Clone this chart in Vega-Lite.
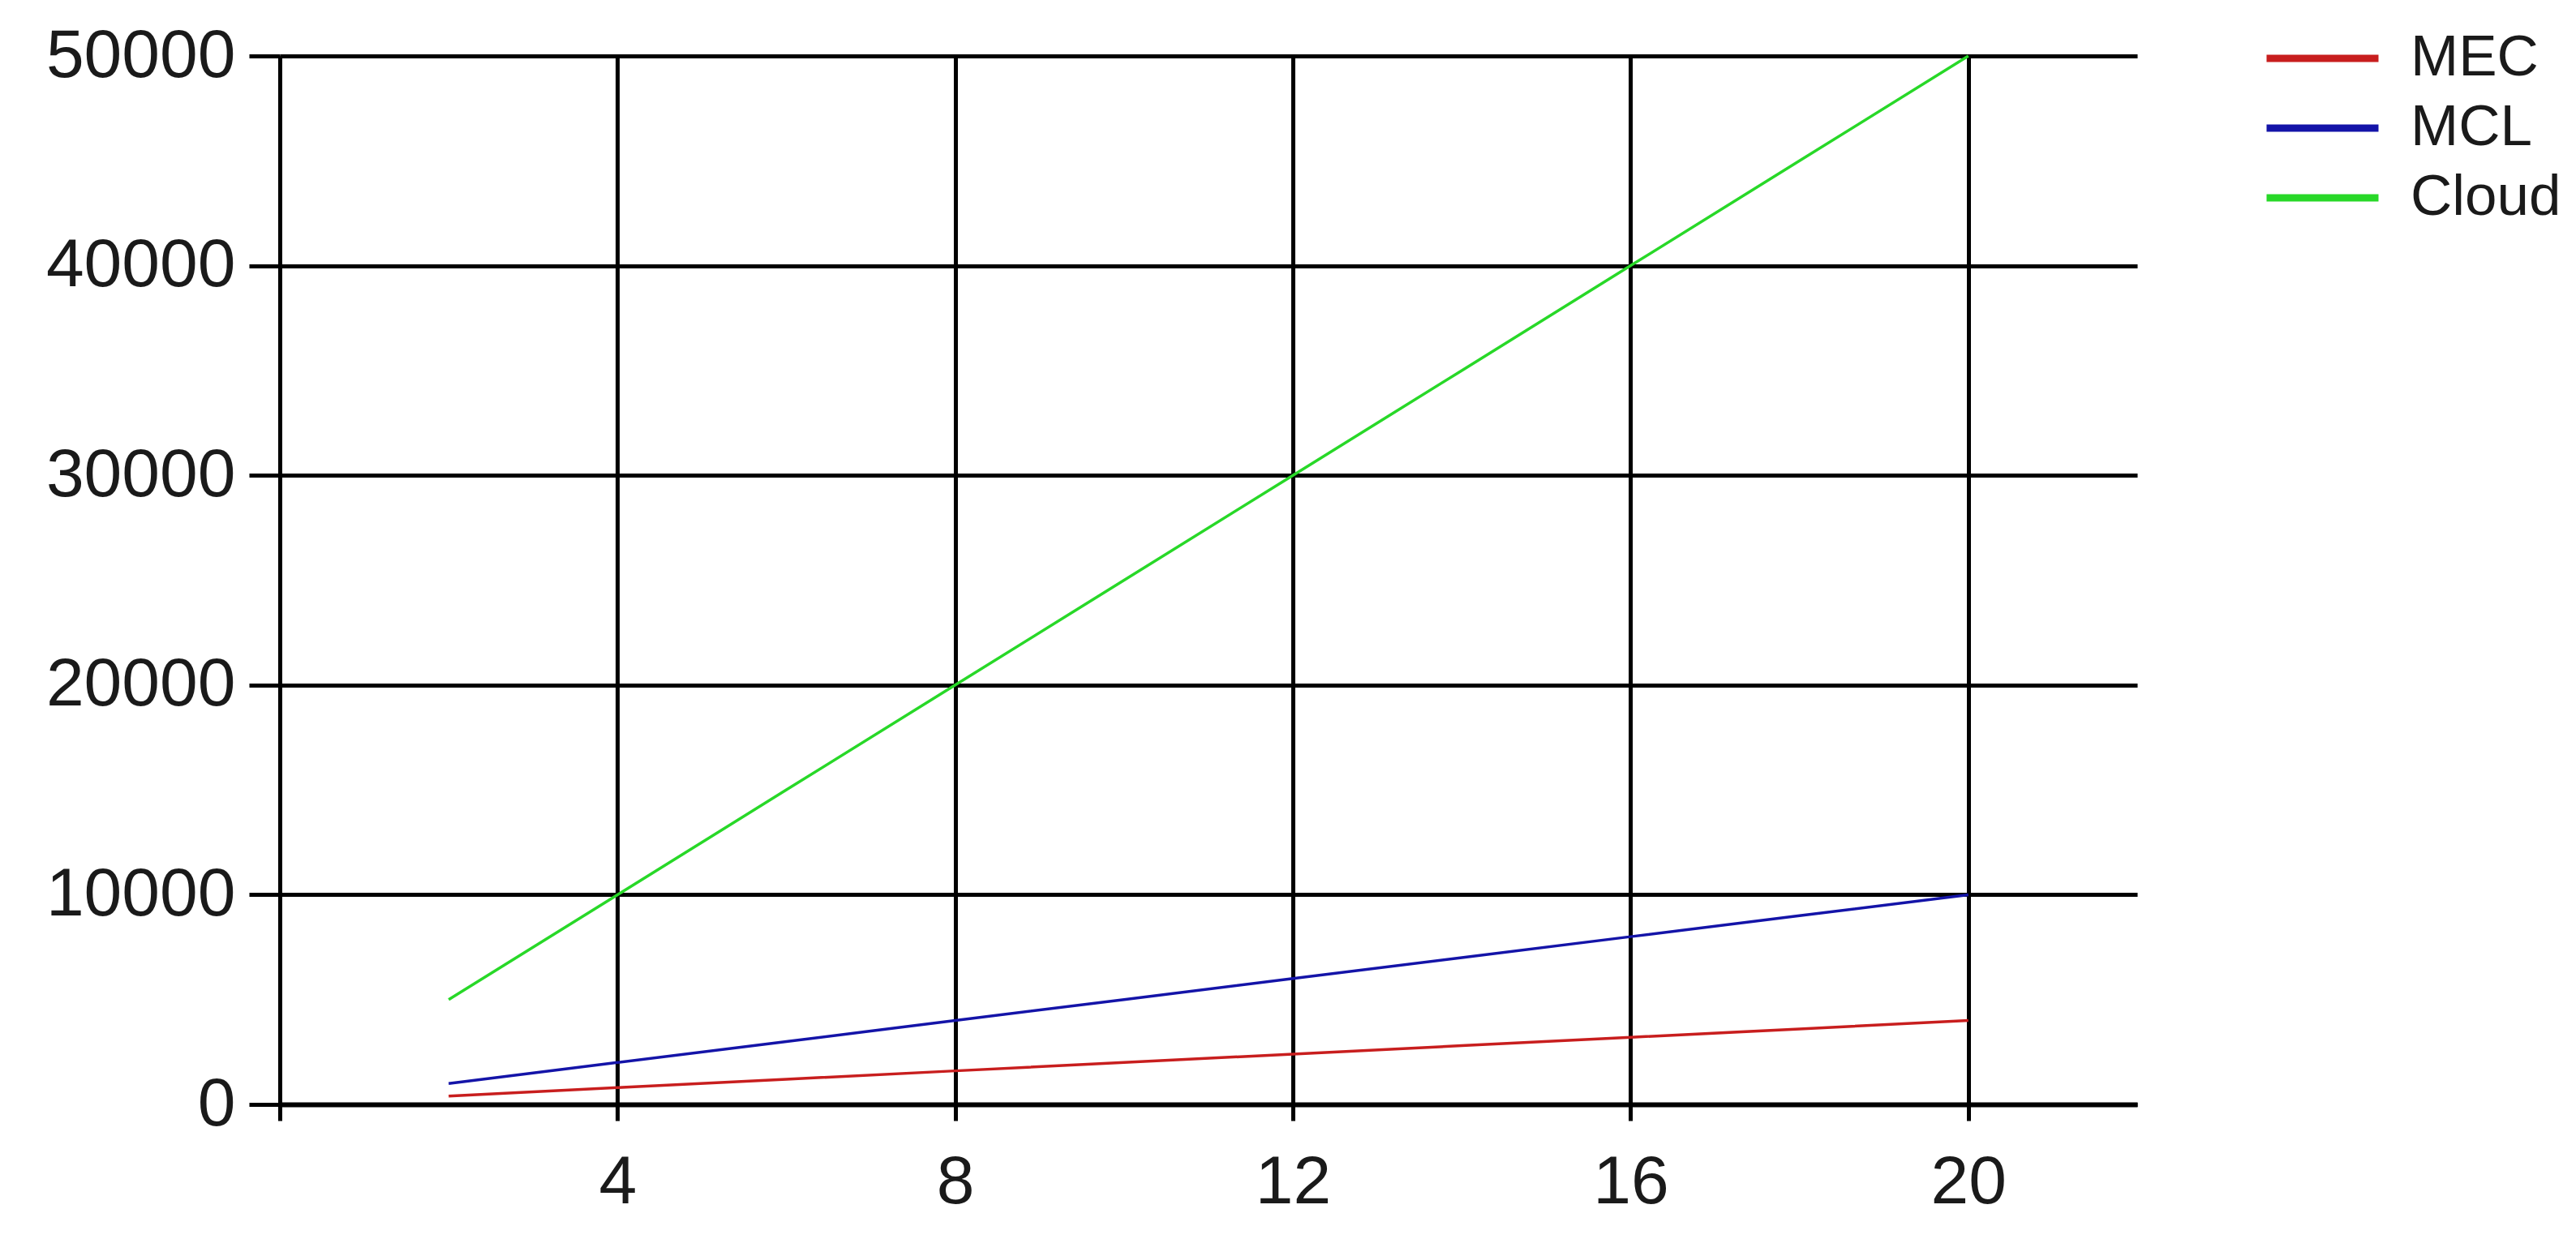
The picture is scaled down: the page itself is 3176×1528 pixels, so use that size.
{
  "$schema": "https://vega.github.io/schema/vega-lite/v6.json",
  "width": 2290,
  "height": 1293,
  "autosize": {"type": "none"},
  "padding": {"left": 345, "top": 69, "right": 541, "bottom": 166},
  "background": "white",
  "config": {
    "view": {"stroke": null},
    "font": "Liberation Sans, Arial, sans-serif"
  },
  "data": {
    "values": [
      {"x": 2, "series": "MEC", "value": 400},
      {"x": 4, "series": "MEC", "value": 800},
      {"x": 6, "series": "MEC", "value": 1200},
      {"x": 8, "series": "MEC", "value": 1600},
      {"x": 10, "series": "MEC", "value": 2000},
      {"x": 12, "series": "MEC", "value": 2400},
      {"x": 14, "series": "MEC", "value": 2800},
      {"x": 16, "series": "MEC", "value": 3200},
      {"x": 18, "series": "MEC", "value": 3600},
      {"x": 20, "series": "MEC", "value": 4000},
      {"x": 2, "series": "MCL", "value": 1000},
      {"x": 4, "series": "MCL", "value": 2000},
      {"x": 6, "series": "MCL", "value": 3000},
      {"x": 8, "series": "MCL", "value": 4000},
      {"x": 10, "series": "MCL", "value": 5000},
      {"x": 12, "series": "MCL", "value": 6000},
      {"x": 14, "series": "MCL", "value": 7000},
      {"x": 16, "series": "MCL", "value": 8000},
      {"x": 18, "series": "MCL", "value": 9000},
      {"x": 20, "series": "MCL", "value": 10000},
      {"x": 2, "series": "Cloud", "value": 5000},
      {"x": 4, "series": "Cloud", "value": 10000},
      {"x": 6, "series": "Cloud", "value": 15000},
      {"x": 8, "series": "Cloud", "value": 20000},
      {"x": 10, "series": "Cloud", "value": 25000},
      {"x": 12, "series": "Cloud", "value": 30000},
      {"x": 14, "series": "Cloud", "value": 35000},
      {"x": 16, "series": "Cloud", "value": 40000},
      {"x": 18, "series": "Cloud", "value": 45000},
      {"x": 20, "series": "Cloud", "value": 50000}
    ]
  },
  "mark": {"type": "line", "strokeWidth": 3.5, "clip": false},
  "encoding": {
    "x": {
      "field": "x",
      "type": "quantitative",
      "scale": {"domain": [0, 22], "nice": false, "zero": false},
      "axis": {
        "title": null,
        "values": [0, 4, 8, 12, 16, 20],
        "labelExpr": "datum.value == 0 ? '' : datum.label",
        "grid": true,
        "gridColor": "#000000",
        "gridWidth": 5,
        "gridOpacity": 1,
        "domainColor": "#000000",
        "domainWidth": 6,
        "tickColor": "#000000",
        "tickWidth": 5,
        "tickSize": 20,
        "labelFontSize": 84,
        "labelColor": "#1a1a1a",
        "labelPadding": 35,
        "labelFlush": false,
        "labelLimit": 0
      }
    },
    "y": {
      "field": "value",
      "type": "quantitative",
      "scale": {"domain": [0, 50000], "nice": false},
      "axis": {
        "title": null,
        "values": [0, 10000, 20000, 30000, 40000, 50000],
        "format": "d",
        "grid": true,
        "gridColor": "#000000",
        "gridWidth": 5,
        "gridOpacity": 1,
        "domainColor": "#000000",
        "domainWidth": 5,
        "tickColor": "#000000",
        "tickWidth": 5,
        "tickSize": 38,
        "labelFontSize": 84,
        "labelColor": "#1a1a1a",
        "labelPadding": 17,
        "labelFlush": false,
        "labelLimit": 0
      }
    },
    "color": {
      "field": "series",
      "type": "nominal",
      "scale": {
        "domain": ["MEC", "MCL", "Cloud"],
        "range": ["#c81e1e", "#1414a8", "#28d828"]
      },
      "legend": {
        "title": null,
        "orient": "none",
        "legendX": 2445,
        "legendY": -40,
        "padding": 0,
        "symbolType": "stroke",
        "symbolSize": 19044,
        "symbolStrokeWidth": 9,
        "clipHeight": 86,
        "labelFontSize": 71,
        "labelColor": "#1a1a1a",
        "labelOffset": 35,
        "labelLimit": 0,
        "rowPadding": 0
      }
    }
  }
}
